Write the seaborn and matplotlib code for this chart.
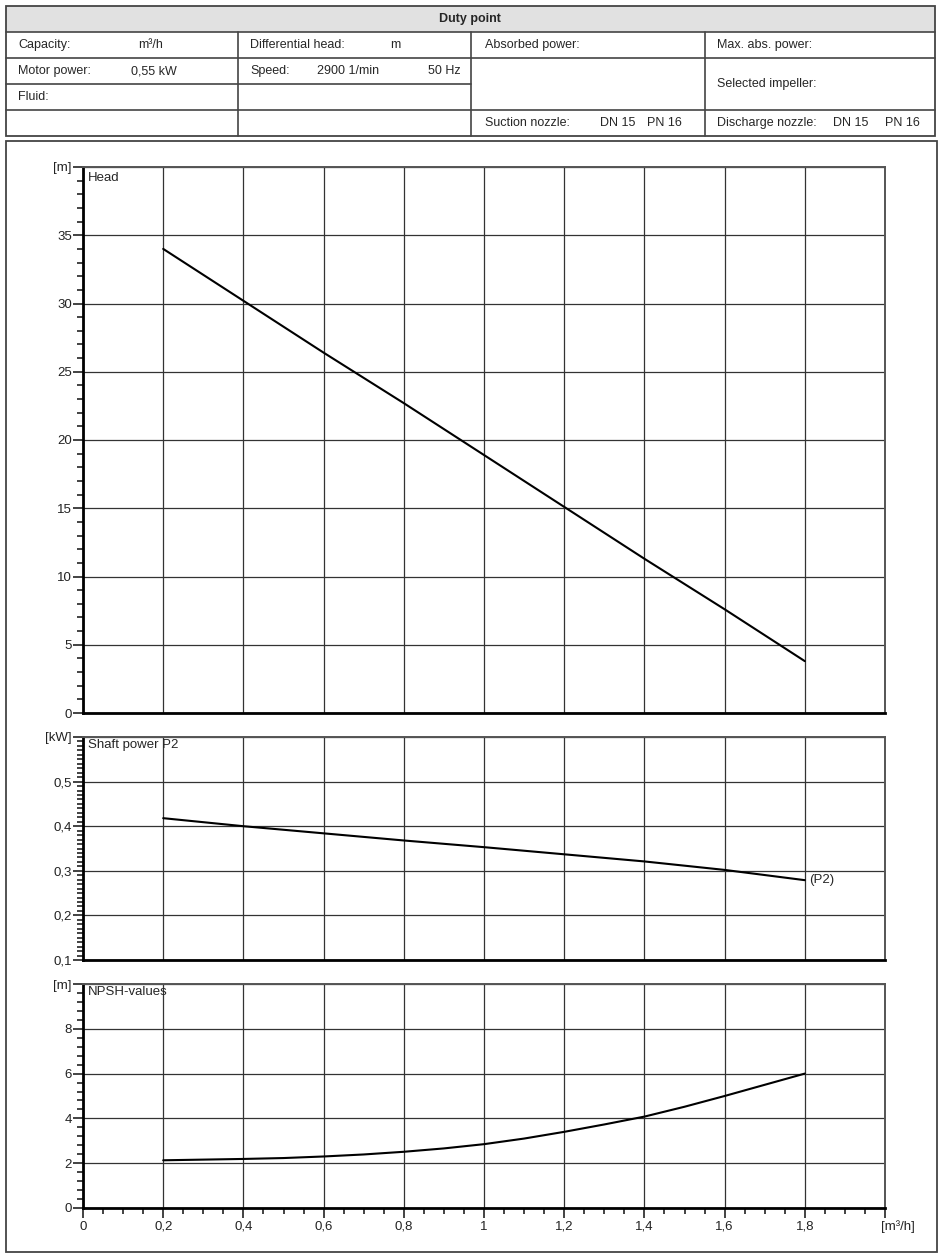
import numpy as np
import pandas as pd
import seaborn as sns
import matplotlib.pyplot as plt
from matplotlib.patches import Rectangle
from matplotlib.ticker import FixedLocator, MultipleLocator, FixedFormatter

# Curve data
flow = [0.2, 0.4, 0.6, 0.8, 1.0, 1.2, 1.4, 1.6, 1.8]
head = [34.0, 30.2, 26.4, 22.7, 18.9, 15.1, 11.3, 7.6, 3.8]
power = [0.418, 0.400, 0.384, 0.368, 0.353, 0.337, 0.321, 0.302, 0.279]
npsh_flow = [0.2, 0.3, 0.4, 0.5, 0.6, 0.7, 0.8, 0.9, 1.0, 1.1, 1.2,
             1.3, 1.4, 1.5, 1.6, 1.7, 1.8]
npsh = [2.13, 2.16, 2.19, 2.23, 2.30, 2.39, 2.51, 2.66, 2.85, 3.10, 3.40,
        3.73, 4.08, 4.52, 5.00, 5.50, 6.00]

x_ticks = [0, 0.2, 0.4, 0.6, 0.8, 1.0, 1.2, 1.4, 1.6, 1.8, 2.0]
x_labels = ['0', '0,2', '0,4', '0,6', '0,8', '1', '1,2', '1,4', '1,6', '1,8', '']
head_ticks = [0, 5, 10, 15, 20, 25, 30, 35, 40]
head_labels = ['0', '5', '10', '15', '20', '25', '30', '35', '[m]']
power_ticks = [0.1, 0.2, 0.3, 0.4, 0.5, 0.6]
power_labels = ['0,1', '0,2', '0,3', '0,4', '0,5', '[kW]']
npsh_ticks = [0, 2, 4, 6, 8, 10]
npsh_labels = ['0', '2', '4', '6', '8', '[m]']

# Duty point table
table_rows = [
    (18, 45, 'Capacity:'), (138, 45, 'm³/h'), (250, 45, 'Differential head:'),
    (390, 45, 'm'), (485, 45, 'Absorbed power:'), (717, 45, 'Max. abs. power:'),
    (18, 71, 'Motor power:'), (131, 71, '0,55 kW'), (250, 71, 'Speed:'),
    (317, 71, '2900 1/min'), (428, 71, '50 Hz'), (717, 84, 'Selected impeller:'),
    (18, 97, 'Fluid:'),
    (485, 123, 'Suction nozzle:'), (600, 123, 'DN 15'), (647, 123, 'PN 16'),
    (717, 123, 'Discharge nozzle:'), (833, 123, 'DN 15'), (885, 123, 'PN 16'),
]

sns.set_style('ticks')
plt.rcParams['font.family'] = ['Liberation Sans', 'DejaVu Sans']
plt.rcParams['font.size'] = 9

fig = plt.figure(figsize=(9.4, 12.55), dpi=100)

# background layer in pixel coordinates for the table and frame
bg = fig.add_axes([0, 0, 1, 1])
bg.set_xlim(0, 940)
bg.set_ylim(1255, 0)
bg.axis('off')

line_c = '#444444'
bg.add_patch(Rectangle((6, 6), 929, 26, facecolor='#e1e1e1', edgecolor='none'))
bg.add_patch(Rectangle((6, 6), 929, 130, facecolor='none', edgecolor=line_c, lw=1.3))
bg.plot([6, 935], [32, 32], color=line_c, lw=1.2)
bg.plot([6, 935], [58, 58], color=line_c, lw=1.2)
bg.plot([6, 471], [84, 84], color=line_c, lw=1.2)
bg.plot([6, 935], [110, 110], color=line_c, lw=1.2)
for cx in [238, 471, 705]:
    bg.plot([cx, cx], [32, 136], color=line_c, lw=1.2)
bg.text(470, 19, 'Duty point', ha='center', va='center', fontweight='bold', fontsize=9)
for tx, ty, t in table_rows:
    bg.text(tx, ty, t, ha='left', va='center', fontsize=9)

bg.add_patch(Rectangle((6, 141), 931, 1111, facecolor='none', edgecolor=line_c, lw=1.3))

left, width = 83 / 940, 802 / 940


def frac(top, bottom):
    return [left, 1 - bottom / 1255, width, (bottom - top) / 1255]


ax_h = fig.add_axes(frac(167, 713))
ax_p = fig.add_axes(frac(737, 960))
ax_n = fig.add_axes(frac(984, 1208))

sns.lineplot(x=flow, y=head, ax=ax_h, color='black', lw=1.5)
sns.lineplot(x=flow, y=power, ax=ax_p, color='black', lw=1.5)
sns.lineplot(x=npsh_flow, y=npsh, ax=ax_n, color='black', lw=1.5)

setup = [
    (ax_h, head_ticks, head_labels, 1, 'Head'),
    (ax_p, power_ticks, power_labels, 0.01, 'Shaft power P2'),
    (ax_n, npsh_ticks, npsh_labels, 0.4, 'NPSH-values'),
]
for ax, yt, yl, ym, title in setup:
    ax.set_xlim(0, 2.0)
    ax.set_ylim(yt[0], yt[-1])
    ax.xaxis.set_major_locator(FixedLocator(x_ticks))
    ax.yaxis.set_major_locator(FixedLocator(yt))
    ax.yaxis.set_major_formatter(FixedFormatter(yl))
    ax.yaxis.set_minor_locator(MultipleLocator(ym))
    ax.grid(True, which='major', color='#333333', lw=0.9)
    ax.set_axisbelow(True)
    for side in ['top', 'right']:
        ax.spines[side].set_visible(True)
        ax.spines[side].set_color('#555555')
        ax.spines[side].set_linewidth(1.4)
    for side in ['left', 'bottom']:
        ax.spines[side].set_color('black')
        ax.spines[side].set_linewidth(2)
    ax.tick_params(axis='y', which='major', length=7, width=1.2, pad=1,
                   labelsize=9.5, colors='#222222')
    ax.tick_params(axis='y', which='minor', length=4.5, width=1.2, colors='#222222')
    ax.text(0.006, 0.99, title, transform=ax.transAxes, ha='left', va='top',
            fontsize=9.5)
    if ax is ax_n:
        ax.xaxis.set_major_formatter(FixedFormatter(x_labels))
        ax.xaxis.set_minor_locator(MultipleLocator(0.05))
        ax.tick_params(axis='x', which='major', length=7, width=1.2, pad=2,
                       labelsize=9.5, colors='#222222')
        ax.tick_params(axis='x', which='minor', length=4.5, width=1.2, colors='#222222')
    else:
        ax.tick_params(axis='x', which='both', length=0, labelbottom=False)

ax_p.text(1.81, power[-1], '(P2)', ha='left', va='center', fontsize=9.5)
ax_n.annotate('[m³/h]', xy=(2.0, 0), xycoords='data', xytext=(9, -9),
              textcoords='offset points', ha='center', va='top', fontsize=9.5)

fig.savefig('out.png', dpi=100)
